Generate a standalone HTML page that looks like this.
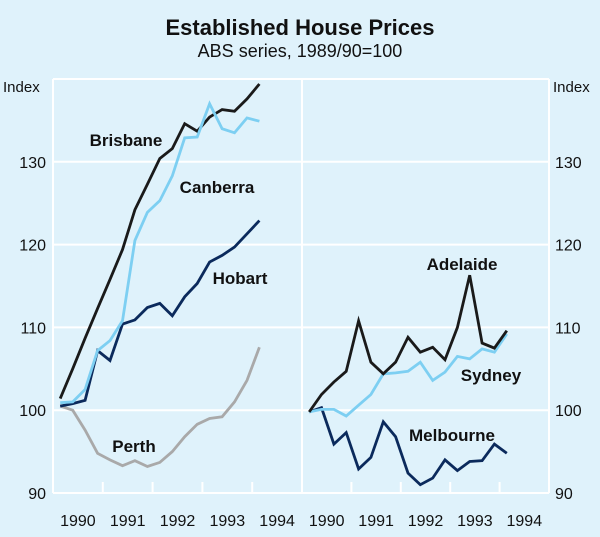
<!DOCTYPE html>
<html><head><meta charset="utf-8"><style>
html,body{margin:0;padding:0;background:#dff2fb;}
svg{display:block;font-family:"Liberation Sans",Arial,sans-serif;}
</style></head><body>
<svg id="chart" width="600" height="537" viewBox="0 0 600 537">
<rect x="0" y="0" width="600" height="537" fill="#dff2fb"/>
<text x="300" y="35" text-anchor="middle" font-size="22" font-weight="bold" fill="#111">Established House Prices</text>
<text x="300" y="57" text-anchor="middle" font-size="18" fill="#111">ABS series, 1989/90=100</text>
<text x="3" y="92" font-size="15" fill="#111">Index</text>
<text x="553" y="92" font-size="15" fill="#111">Index</text>
<g id="grid"></g><g id="axes"></g><g id="series"></g><g id="labels"></g>
</svg>
<script>
const yTicks=[90,100,110,120,130];
const years=["1990","1991","1992","1993","1994"];
const brisbane=[101.4,105,108.7,112.3,115.8,119.4,124.2,127.3,130.4,131.6,134.6,133.7,135.4,136.3,136.1,137.6,139.4];
const canberra=[100.9,101.0,102.5,107.2,108.4,110.8,120.5,123.9,125.3,128.3,132.9,133.0,137.0,134.0,133.5,135.3,134.9];
const hobart=[100.5,100.8,101.2,107.2,106.0,110.4,110.9,112.4,112.9,111.4,113.7,115.3,117.9,118.7,119.7,121.3,122.9];
const perth=[100.5,100.0,97.6,94.8,94.0,93.3,93.9,93.2,93.7,95.0,96.8,98.3,99.0,99.2,101.0,103.6,107.6];
const adelaide=[99.8,101.9,103.4,104.7,110.8,105.8,104.4,105.8,108.8,107.0,107.6,106.1,110.0,116.3,108.1,107.5,109.6];
const sydney=[99.8,100.1,100.1,99.3,100.6,101.9,104.4,104.5,104.7,105.8,103.6,104.6,106.5,106.2,107.4,107.0,109.2];
const melbourne=[99.8,100.3,95.9,97.3,92.9,94.3,98.6,96.8,92.4,91.0,91.8,94.0,92.7,93.8,93.9,95.9,94.8];

const NS="http://www.w3.org/2000/svg";
const yMin=90,yMax=140,yTop=79,yBot=493;
function y(v){return yBot-(v-yMin)/(yMax-yMin)*(yBot-yTop);}
const panels=[{x0:53,x1:302},{x0:302,x1:549}];
function xq(p,i){const w=(p.x1-p.x0)/5;return p.x0+w*(i+0.5)/4+1;}
function mk(tag,attrs,parent){const e=document.createElementNS(NS,tag);for(const k in attrs)e.setAttribute(k,attrs[k]);parent.appendChild(e);return e;}
const grid=document.getElementById('grid'),axes=document.getElementById('axes'),ser=document.getElementById('series'),lab=document.getElementById('labels');
yTicks.concat([140]).forEach(v=>{
  const l=mk('line',{x1:53,x2:549,y1:y(v),y2:y(v),stroke:'#fff','stroke-width':2},grid);
  
  
});
[53,302,549].forEach(x=>{
  const l=mk('line',{x1:x,x2:x,y1:yTop,y2:yBot,stroke:'#fff','stroke-width':2},grid);
  
  
});
yTicks.forEach(v=>{
  const t=mk('text',{x:46,y:y(v)+6,'text-anchor':'end','font-size':16,fill:'#111'},axes);t.textContent=v;
  
  
  const t2=mk('text',{x:555,y:y(v)+6,'font-size':16,fill:'#111'},axes);t2.textContent=v;
  
  
});
panels.forEach((p,pi)=>{
  const w=(p.x1-p.x0)/5;
  years.forEach((yr,k)=>{
    const t=mk('text',{x:p.x0+w*(k+0.5),y:526,'text-anchor':'middle','font-size':16,fill:'#111'},axes);t.textContent=yr;
    
    
    if(k>0){const l=mk('line',{x1:p.x0+w*k,x2:p.x0+w*k,y1:yBot,y2:yBot-11,stroke:'#fff','stroke-width':2},axes);
      
      }
  });
});
function line(data,p,color,name){
  const pts=data.map((v,i)=>xq(p,i).toFixed(1)+','+y(v).toFixed(1)).join(' ');
  const e=mk('polyline',{points:pts,fill:'none',stroke:color,'stroke-width':2.8,'stroke-linejoin':'miter'},ser);
  
  
}
line(perth,panels[0],'#a9a9a9','perth-line');
line(hobart,panels[0],'#0b2a5c','hobart-line');
line(brisbane,panels[0],'#1a1a1a','brisbane-line');
line(canberra,panels[0],'#7dcff2','canberra-line');
line(melbourne,panels[1],'#0b2a5c','melbourne-line');
line(sydney,panels[1],'#7dcff2','sydney-line');
line(adelaide,panels[1],'#1a1a1a','adelaide-line');
[["Brisbane",126,146],["Canberra",217,193],["Hobart",240,284],["Perth",134,452],["Adelaide",462,270],["Sydney",491,381],["Melbourne",452,441]].forEach(a=>{
  const t=mk('text',{x:a[1],y:a[2],'text-anchor':'middle','font-size':17,'font-weight':'bold',fill:'#111'},lab);t.textContent=a[0];
  
  
});
</script>
</body></html>
